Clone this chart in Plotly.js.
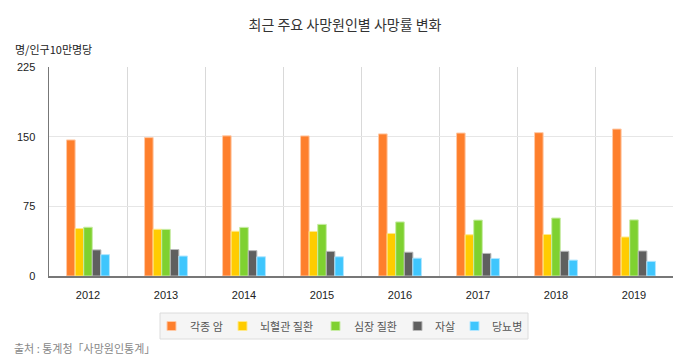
<!DOCTYPE html>
<html>
<head>
<meta charset="utf-8">
<script src="https://cdn.plot.ly/plotly-3.0.1.min.js"></script>
<style>html,body{margin:0;padding:0;background:#fff;}#chart{width:690px;height:360px;}</style>
</head>
<body>
<div id="chart"></div>
<script>
const years = ['2012','2013','2014','2015','2016','2017','2018','2019'];
const seriesNames = ['각종 암','뇌혈관 질환','심장 질환','자살','당뇨병'];
const cancer = [146.5, 149.0, 150.9, 150.8, 153.0, 153.9, 154.3, 158.2];
const cerebro = [51.1, 50.3, 48.2, 48.0, 45.8, 44.4, 44.7, 42.0];
const heart = [52.5, 50.2, 52.4, 55.6, 58.2, 60.2, 62.4, 60.4];
const suicide = [28.1, 28.5, 27.3, 26.5, 25.6, 24.3, 26.6, 26.9];
const diabetes = [23.0, 21.5, 20.7, 20.7, 19.2, 18.9, 17.1, 15.8];
const yTicks = [0, 75, 150, 225];

const colors = ['#fe7f2c', '#ffcc00', '#7fd130', '#5f5f5f', '#3fc6fd'];
const lineColors = ['#ffc9a6', '#ffe98a', '#c8eca6', '#b8b8b8', '#b0e6ff'];
const values = [cancer, cerebro, heart, suicide, diabetes];
const font = '"Noto Sans CJK KR", "Noto Sans", sans-serif';

const data = values.map((v, i) => ({
  type: 'bar',
  name: seriesNames[i],
  x: years,
  y: v,
  marker: {color: colors[i], line: {color: lineColors[i], width: 1}},
  hoverinfo: 'x+y+name'
}));

// plot area in pixels: left 49, right 673, top 67, bottom 276
const PL = 49, PW = 624, PB = 276, PH = 209;
const px = x => (x - PL) / PW;
const py = y => (PB - y) / PH;

// legend layout (pixel positions)
const legBox = {x0: 160, x1: 528, y0: 313, y1: 339};
const legSquareX = [167, 238, 331, 413, 470];
const legTextX = [188, 258, 352, 433, 490];
const legMidY = 326;

const shapes = [
  {type: 'rect', xref: 'paper', yref: 'paper', x0: px(legBox.x0), x1: px(legBox.x1), y0: py(legBox.y1), y1: py(legBox.y0),
   fillcolor: '#f5f5f5', line: {color: '#dcdcdc', width: 1}, layer: 'above'}
];
seriesNames.forEach((n, i) => {
  shapes.push({type: 'rect', xref: 'paper', yref: 'paper',
    x0: px(legSquareX[i]), x1: px(legSquareX[i] + 9), y0: py(legMidY + 4.5), y1: py(legMidY - 4.5),
    fillcolor: colors[i], line: {color: lineColors[i], width: 1}, layer: 'above'});
});

const annotations = [
  {text: '명/인구10만명당', xref: 'paper', yref: 'paper', x: px(13), y: py(49), xanchor: 'left', yanchor: 'middle',
   showarrow: false, font: {family: font, size: 11, color: '#222'}},
  {text: '출처 : 통계청「사망원인통계」', xref: 'paper', yref: 'paper', x: px(12), y: py(348), xanchor: 'left', yanchor: 'middle',
   showarrow: false, font: {family: font, size: 11, color: '#888'}}
];
seriesNames.forEach((n, i) => {
  annotations.push({text: n, xref: 'paper', yref: 'paper', x: px(legTextX[i]), y: py(legMidY), xanchor: 'left', yanchor: 'middle',
    showarrow: false, font: {family: font, size: 11, color: '#555'}});
});

const layout = {
  width: 690, height: 360,
  margin: {l: 49, r: 17, t: 67, b: 84},
  paper_bgcolor: '#fff', plot_bgcolor: '#fff',
  font: {family: font, size: 11, color: '#333'},
  title: {text: '최근 주요 사망원인별 사망률 변화', x: 0.5, xanchor: 'center', y: 1 - 25/360, yanchor: 'middle',
          font: {family: font, size: 14, color: '#333'}},
  barmode: 'group', bargap: 0.45, bargroupgap: 0,
  showlegend: false,
  xaxis: {type: 'category', tickson: 'boundaries', showgrid: true, gridcolor: '#d9d9d9', gridwidth: 1,
          ticks: '', showline: true, linecolor: '#777', linewidth: 1.5, zeroline: false,
          tickfont: {family: 'Arial, "Liberation Sans", sans-serif', size: 11, color: '#222'},
          ticklabelstandoff: 8, fixedrange: true},
  yaxis: {range: [0, 225], tickvals: yTicks, ticktext: yTicks.map(String), showgrid: true, gridcolor: '#e6e6e6',
          showline: true, linecolor: '#777', linewidth: 1.5, zeroline: false, ticks: '',
          tickfont: {family: 'Arial, "Liberation Sans", sans-serif', size: 11, color: '#222'},
          ticklabelstandoff: 10, fixedrange: true},
  shapes: shapes,
  annotations: annotations
};

Plotly.newPlot('chart', data, layout, {displayModeBar: false, staticPlot: true});
</script>
</body>
</html>
